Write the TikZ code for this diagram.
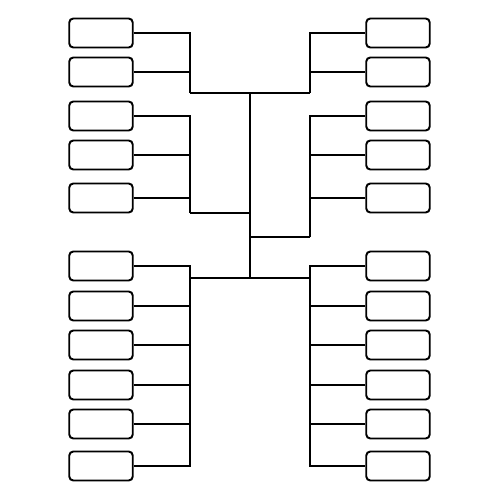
\documentclass[tikz,border=0pt]{standalone}
\usepackage{tikz}
\usetikzlibrary{positioning, calc}

\begin{document}
\begin{tikzpicture}[
        x=0.02cm, y=-0.02cm,
        team/.style={rectangle, draw, line width=1.1pt, rounded corners=0.08cm, inner sep=0pt, minimum width=1.27cm, minimum height=0.58cm},
        wire/.style={line width=1.1pt}
    ]
        \useasboundingbox (0,0) rectangle (500,500);

        % left side
        \node[team] (l1) at (101,33) {};
        \node[team] (l2) at (101,72) {};
        \node[team] (l3) at (101,116) {};
        \node[team] (l4) at (101,155) {};
        \node[team] (l5) at (101,198) {};
        \node[team] (l6) at (101,266) {};
        \node[team] (l7) at (101,306) {};
        \node[team] (l8) at (101,345) {};
        \node[team] (l9) at (101,385) {};
        \node[team] (l10) at (101,424) {};
        \node[team] (l11) at (101,466) {};

        % right side
        \node[team] (r1) at (398,33) {};
        \node[team] (r2) at (398,72) {};
        \node[team] (r3) at (398,116) {};
        \node[team] (r4) at (398,155) {};
        \node[team] (r5) at (398,198) {};
        \node[team] (r6) at (398,266) {};
        \node[team] (r7) at (398,306) {};
        \node[team] (r8) at (398,345) {};
        \node[team] (r9) at (398,385) {};
        \node[team] (r10) at (398,424) {};
        \node[team] (r11) at (398,466) {};

        % junctions
        \coordinate (la) at (190,93);
        \coordinate (lb) at (190,213);
        \coordinate (lc) at (190,278);
        \coordinate (ra) at (310,93);
        \coordinate (rb) at (310,237);
        \coordinate (rc) at (310,278);
        \coordinate (ta) at (250,93);
        \coordinate (tb) at (250,213);
        \coordinate (tc) at (250,237);
        \coordinate (td) at (250,278);

        % spine
        \draw[wire] (ta) -- (td);
        \draw[wire] (la) -- (ra);
        \draw[wire] (lc) -- (rc);

        % left brackets
        \draw[wire] (l1.east) -| (la);
        \draw[wire] (l2.east) -- (l2.east -| la);
        \draw[wire] (l3.east) -| (lb);
        \draw[wire] (l4.east) -- (l4.east -| lb);
        \draw[wire] (l5.east) -- (l5.east -| lb);
        \draw[wire] (lb) -- (tb);
        \draw[wire] (l6.east) -| (lc);
        \draw[wire] (lc) |- (l11.east);
        \draw[wire] (l7.east) -- (l7.east -| lc);
        \draw[wire] (l8.east) -- (l8.east -| lc);
        \draw[wire] (l9.east) -- (l9.east -| lc);
        \draw[wire] (l10.east) -- (l10.east -| lc);

        % right brackets
        \draw[wire] (r1.west) -| (ra);
        \draw[wire] (r2.west) -- (r2.west -| ra);
        \draw[wire] (r3.west) -| (rb);
        \draw[wire] (r4.west) -- (r4.west -| rb);
        \draw[wire] (r5.west) -- (r5.west -| rb);
        \draw[wire] (rb) -- (tc);
        \draw[wire] (r6.west) -| (rc);
        \draw[wire] (rc) |- (r11.west);
        \draw[wire] (r7.west) -- (r7.west -| rc);
        \draw[wire] (r8.west) -- (r8.west -| rc);
        \draw[wire] (r9.west) -- (r9.west -| rc);
        \draw[wire] (r10.west) -- (r10.west -| rc);
    \end{tikzpicture}
\end{document}
